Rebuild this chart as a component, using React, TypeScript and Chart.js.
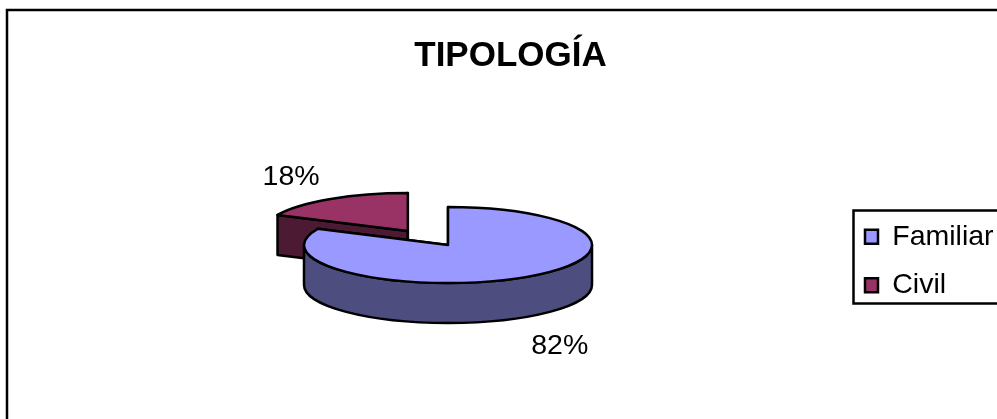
import React, { useEffect, useRef } from "react";
import { Chart, registerables } from "chart.js";

Chart.register(...registerables);

const categories = ["Familiar", "Civil"];
const shares = [82, 18];
const topColors = ["#9999FF", "#993366"];
const sideColors = ["#4D4D80", "#4D1A33"];
const explode = [0, 75];

const FONT = "'Liberation Sans', Arial, sans-serif";
const SQUASH = 38 / 144;
const EXPLODE_SQUASH = 0.22;
const DEPTH = 40;

const pie3d = {
  id: "pie3d",
  afterLayout(chart: any) {
    // Place the plot and the legend where the reference has them.
    const a = chart.chartArea;
    a.left = 304; a.right = 592; a.top = 101; a.bottom = 389;
    a.width = 288; a.height = 288;
    const l = chart.legend;
    const w = l.width, h = l.height;
    l.left = 845; l.right = 845 + w; l.top = 202.5; l.bottom = 202.5 + h;
    const t = chart.titleBlock;
    t.left = 24; t.right = 997;
  },
  beforeDraw(chart: any) {
    const ctx = chart.ctx;
    ctx.save();
    ctx.fillStyle = "#fff";
    ctx.fillRect(0, 0, chart.width, chart.height);
    ctx.strokeStyle = "#000";
    ctx.lineWidth = 2.5;
    ctx.strokeRect(7, 10, 1100, 600);
    ctx.fillStyle = "#fff";
    ctx.fillRect(853.5, 210.5, 200, 93);
    ctx.strokeRect(853.5, 210.5, 200, 93);
    ctx.restore();
  },
  beforeDatasetsDraw(chart: any) {
    const ctx = chart.ctx;
    const arcs = chart.getDatasetMeta(0).data;
    const geom = arcs.map((arc: any, i: number) => {
      const mid = (arc.startAngle + arc.endAngle) / 2;
      const r = arc.outerRadius;
      const e = arc.options.offset || 0;
      return {
        arc,
        i,
        mid,
        r,
        cx: arc.x + Math.cos(mid) * e,
        cy: arc.y + Math.sin(mid) * e * EXPLODE_SQUASH,
      };
    });
    const pt = (g: any, ang: number, down = 0) => [
      g.cx + Math.cos(ang) * g.r,
      g.cy + Math.sin(ang) * g.r * SQUASH + down,
    ];
    const paint = (fill: string, width: number, border: string) => {
      ctx.fillStyle = fill;
      ctx.fill();
      ctx.lineWidth = width;
      ctx.strokeStyle = border;
      ctx.lineJoin = "round";
      ctx.stroke();
    };
    const ellipse = (g: any, y: number, a0: number, a1: number, ccw = false) =>
      ctx.ellipse(g.cx, y, g.r, g.r * SQUASH, 0, a0, a1, ccw);

    // The slice farthest from the viewer is painted first.
    const order = [...geom].sort((p: any, q: any) => p.cy - q.cy);
    for (const g of order) {
      const { arc, i } = g;
      const w = arc.options.borderWidth;
      const b = arc.options.borderColor;
      const s = arc.startAngle, en = arc.endAngle;
      for (const ang of [s, en]) {
        const [x, y] = pt(g, ang);
        ctx.beginPath();
        ctx.moveTo(g.cx, g.cy);
        ctx.lineTo(x, y);
        ctx.lineTo(x, y + DEPTH);
        ctx.lineTo(g.cx, g.cy + DEPTH);
        ctx.closePath();
        paint(sideColors[i], w, b);
      }
      const a0 = Math.max(s, 0), a1 = Math.min(en, Math.PI);
      if (a1 > a0) {
        ctx.beginPath();
        ellipse(g, g.cy, a0, a1);
        ellipse(g, g.cy + DEPTH, a1, a0, true);
        ctx.closePath();
        paint(sideColors[i], w, b);
      }
      ctx.beginPath();
      ctx.moveTo(g.cx, g.cy);
      ellipse(g, g.cy, s, en);
      ctx.closePath();
      paint(arc.options.backgroundColor, w, b);
    }

    // Percentage labels sit outside the rim of each slice.
    ctx.save();
    ctx.fillStyle = "#000";
    ctx.font = `28.5px ${FONT}`;
    ctx.textAlign = "center";
    ctx.textBaseline = "middle";
    const total = shares.reduce((p, q) => p + q, 0);
    for (const g of geom) {
      const c = Math.cos(g.mid), sn = Math.sin(g.mid);
      const x = g.cx + c * g.r * 1.48 - 2.5;
      const y = g.cy + sn * g.r * SQUASH * 1.8 + (sn > 0 ? DEPTH : 0) + 3.5;
      ctx.fillText(`${Math.round((shares[g.i] / total) * 100)}%`, x, y);
    }
    ctx.restore();
    return false;
  },
};

export default function App() {
  const ref = useRef<HTMLCanvasElement>(null);
  useEffect(() => {
    const chart = new Chart(ref.current!, {
      type: "pie",
      data: {
        labels: categories,
        datasets: [
          {
            data: shares,
            backgroundColor: topColors,
            borderColor: "#000",
            borderWidth: 2.5,
            offset: explode,
          },
        ],
      },
      options: {
        responsive: false,
        animation: false,
        radius: 144,
        layout: { padding: { left: 24, right: 0, top: 0, bottom: 0 } },
        plugins: {
          tooltip: { enabled: false },
          title: {
            display: true,
            text: "TIPOLOGÍA",
            color: "#000",
            font: { family: FONT, size: 35, weight: "bold" },
            padding: { top: 35.5, bottom: 8 },
          },
          legend: {
            position: "right",
            align: "start",
            labels: {
              color: "#000",
              font: { family: FONT, size: 28.5 },
              boxWidth: 13,
              boxHeight: 14,
              padding: 20,
            },
          },
        },
      },
      plugins: [pie3d],
    } as any);
    return () => chart.destroy();
  }, []);
  return (
    <div style={{ position: "absolute", left: 0, top: 0, width: 997, height: 419, overflow: "hidden" }}>
      <canvas ref={ref} width={997} height={419} style={{ display: "block" }} />
    </div>
  );
}
